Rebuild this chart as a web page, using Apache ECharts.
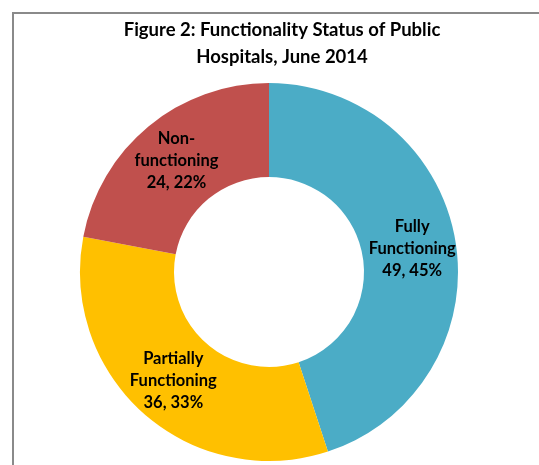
<!DOCTYPE html>
<html>
<head>
<meta charset="utf-8">
<script src="https://cdn.jsdelivr.net/npm/echarts@6/dist/echarts.min.js"></script>
<style>
  html, body { margin: 0; padding: 0; background: #fff; }
  #chart { width: 539px; height: 465px; }
</style>
</head>
<body>
<div id="chart"></div>
<script>
// Functionality status of public hospitals, June 2014
const categories = ['Fully\nFunctioning', 'Partially\nFunctioning', 'Non-\nfunctioning'];
const counts = [49, 36, 24];
const colors = ['#4BACC6', '#FFC000', '#C0504D'];
const titleText = 'Figure 2: Functionality Status of Public\nHospitals, June 2014';

const total = counts.reduce((a, b) => a + b, 0);

const chart = echarts.init(document.getElementById('chart'), null, { renderer: 'canvas' });

chart.setOption({
  backgroundColor: '#ffffff',
  animation: false,
  title: {
    text: titleText,
    left: 277,
    top: 12,
    textAlign: 'center',
    textStyle: {
      fontFamily: 'Lato',
      fontWeight: 'bold',
      fontSize: 18.5,
      lineHeight: 27,
      color: '#000'
    }
  },
  graphic: [{
    type: 'rect',
    shape: { x: 13, y: 13, width: 600, height: 600 },
    style: { fill: 'none', stroke: '#8a8a8a', lineWidth: 2 },
    silent: true
  }],
  series: [{
    type: 'pie',
    center: [269, 272],
    radius: [95, 189],
    startAngle: 90,
    clockwise: true,
    avoidLabelOverlap: false,
    itemStyle: { borderWidth: 0 },
    label: {
      position: 'inside',
      fontFamily: 'Lato',
      fontWeight: 'bold',
      fontSize: 16.5,
      lineHeight: 22,
      color: '#000',
      formatter: p => p.name + '\n' + p.value + ', ' + Math.round(p.value / total * 100) + '%'
    },
    labelLine: { show: false },
    emphasis: { disabled: true },
    data: categories.map((c, i) => ({ name: c, value: counts[i], itemStyle: { color: colors[i] } }))
  }]
});
</script>
</body>
</html>
